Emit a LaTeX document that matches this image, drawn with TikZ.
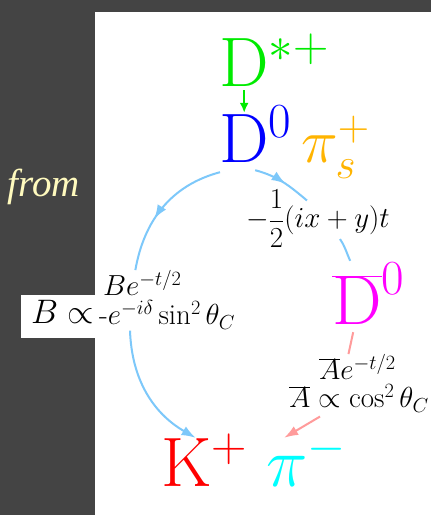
\documentclass[tikz,border=0pt]{standalone}
\usepackage{fix-cm}
\usepackage{fontspec}
\newfontfamily\slidefont{Liberation Serif}
\usepackage{tikz}
\usetikzlibrary{arrows.meta,decorations.markings}
\definecolor{colGray}{RGB}{68,68,68}
\definecolor{colSky}{RGB}{125,200,250}
\definecolor{colPink}{RGB}{255,155,155}
\definecolor{colOrange}{RGB}{255,180,0}
\definecolor{colFrom}{RGB}{255,250,190}
\definecolor{colGreen}{RGB}{0,235,0}
\definecolor{colMagenta}{RGB}{255,0,255}
\definecolor{colCyan}{RGB}{0,255,255}

\begin{document}
\begin{tikzpicture}[x=1pt,y=1pt,
  part/.style={anchor=base west,inner sep=1pt,font=\fontsize{70}{70}\selectfont,text height=48pt,text depth=0pt},
  lbl/.style={anchor=base west,inner sep=0pt,font=\fontsize{29}{31}\selectfont},
  skyline/.style={colSky,line width=2pt},
  pinkline/.style={colPink,line width=2pt},
  midtip/.style={postaction={decorate,decoration={markings,mark=at position #1 with {\arrow{Latex[length=14pt,width=10pt]}}}}}]
  \useasboundingbox (0,0) rectangle (431,515);
  \fill[colGray] (0,0) rectangle (431,515);
  \fill[white] (95,0) rectangle (431,503);
  \fill[white] (21,177) rectangle (97,220);
  \node[anchor=base east,inner sep=0pt,text=colFrom,font=\fontsize{39}{40}\selectfont\slidefont\itshape] (from) at (80,318) {from};
  % particles
  \node[part,text=colGreen] (Dstar) at (218,428) {$\mathrm{D}^{\rlap{$\scriptstyle*+$}}$};
  \node[part,text=blue] (D0) at (218,352) {$\mathrm{D}^{\rlap{$\scriptstyle0$}}$};
  \node[part,text=colOrange,font=\fontsize{62}{62}\selectfont] (pis) at (300,352) {$\pi_s^+$};
  \node[part,text=colMagenta,text height=63pt] (Dbar) at (331,190) {$\overline{\mathrm{D}}^{\rlap{$\scriptstyle0$}}$};
  \node[part,text=red] (K) at (160,28) {$\mathrm{K}^{\rlap{$\scriptstyle+$}}$};
  \node[part,text=colCyan] (pim) at (265,28) {$\pi^{\rlap{$\scriptstyle-$}}$};
  % amplitudes
  \node[lbl] (Bup) at (103,219) {$Be^{-t/2}$};
  \node[lbl] (Bsin) at (99,190) {$\mbox{-}e^{-i\delta}\sin^2\theta_C$};
  \node[lbl,font=\fontsize{34}{36}\selectfont] (Bprop) at (31,191) {$B\propto$};
  \node[lbl] (half) at (246,287) {$\displaystyle-\frac{1}{2}(ix+y)t$};
  \node[lbl] (Aup) at (319,135) {$\overline{A}e^{-t/2}$};
  \node[lbl] (Alow) at (289,107) {$\overline{A}\propto\cos^2\theta_C$};
  % arrows
  \draw[colGreen,line width=2pt,-{Latex[length=10pt,width=9pt]},shorten <=2pt,shorten >=1pt] (Dstar.south) -- (D0.north);
  \draw[skyline,midtip=0.6] ([xshift=2pt,yshift=-8pt]D0.south west) to[out=195,in=80] ([xshift=-7pt]Bup.north);
  \draw[skyline,-{Latex[length=14pt,width=10pt]}] ([xshift=31pt,yshift=-1pt]Bsin.south west) to[out=272,in=150] ([xshift=9pt]K.north);
  \draw[skyline,midtip=0.55] ([xshift=11pt,yshift=-6pt]D0.south) to[out=-15,in=140] ([xshift=-11pt,yshift=-11pt]half.north);
  \draw[skyline] ([xshift=22pt,yshift=9pt]half.south) to[out=-55,in=115] ([xshift=-7pt]Dbar.north);
  \draw[pinkline] ([xshift=-4pt,yshift=-6pt]Dbar.south) -- ([xshift=-9pt]Aup.north);
  \draw[pinkline,-{Latex[length=14pt,width=10pt]}] ([xshift=31pt,yshift=-4pt]Alow.south west) -- ([xshift=-3pt]pim.north);
\end{tikzpicture}
\end{document}
